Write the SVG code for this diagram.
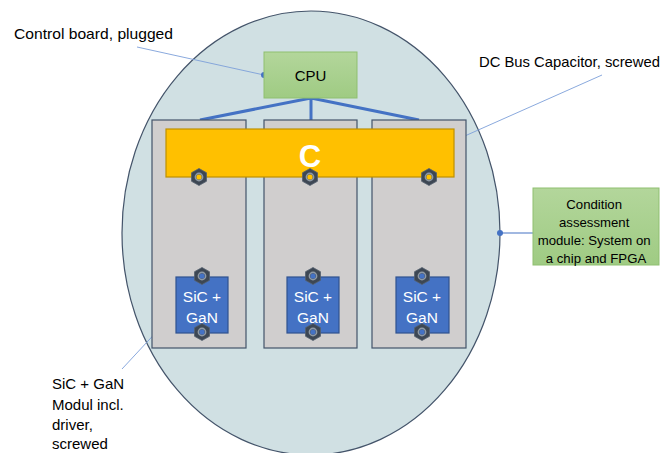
<svg xmlns="http://www.w3.org/2000/svg" width="662" height="453" viewBox="0 0 662 453">
  <style>
    .lbl { font-family: "Liberation Sans", Arial, sans-serif; font-size: 15px; fill: #000; }
    .small { font-size: 13.2px; }
    .board { fill: #d0cece; stroke: #44546a; stroke-width: 1.2; }
    .module { fill: #4472c4; stroke: #2f528f; stroke-width: 1.2; }
    .modtxt { font-family: "Liberation Sans", Arial, sans-serif; font-size: 15.5px; fill: #fff; text-anchor: middle; }
    .green { fill: url(#greenFill); stroke: #8fbf70; stroke-width: 1; }
    .bus { stroke: #4472c4; stroke-width: 3; fill: none; }
    .callout { stroke: #7d9fd9; stroke-width: 0.9; fill: none; }
    .dot { fill: #4472c4; }
  </style>
  <defs>
    <linearGradient id="greenFill" x1="0" y1="0" x2="0" y2="1">
      <stop offset="0" stop-color="#b3d69b"/>
      <stop offset="1" stop-color="#9fcb83"/>
    </linearGradient>
    <!-- hex nut, pointy top -->
    <g id="nut">
      <polygon points="0,-8.5 7.5,-4.3 7.5,4.3 0,8.5 -7.5,4.3 -7.5,-4.3" fill="#3d4754" stroke="#56616f" stroke-width="0.8"/>
      <circle r="3.6" fill="none" stroke="#8e99a5" stroke-width="1.6"/>
    </g>
  </defs>

  <!-- housing -->
  <ellipse id="housing" cx="311" cy="233" rx="189" ry="222" fill="#d0e0e3" stroke="#44546a" stroke-width="1.2"/>

  <!-- connectors -->
  <g id="connectors">
    <path class="bus" d="M311,98 L200,120 M311,98 L311,120 M311,98 L419,120"/>
    <line class="callout" x1="137" y1="47" x2="264" y2="75"/>
    <line class="callout" x1="602" y1="75" x2="440" y2="147"/>
    <line class="callout" x1="122" y1="369" x2="174" y2="313"/>
    <line x1="500" y1="233" x2="533" y2="233" stroke="#4472c4" stroke-width="1.2"/>
    <circle class="dot" cx="264" cy="75" r="3"/>
    <circle class="dot" cx="440" cy="147" r="3"/>
    <circle class="dot" cx="174" cy="313" r="3"/>
    <circle class="dot" cx="500" cy="233" r="3"/>
  </g>

  <!-- power boards -->
  <g id="board1"><rect class="board" x="152" y="120" width="94" height="228"/></g>
  <g id="board2"><rect class="board" x="264" y="120" width="93" height="228"/></g>
  <g id="board3"><rect class="board" x="372" y="120" width="94" height="228"/></g>

  <!-- CPU -->
  <g id="cpu">
    <rect class="green" x="264" y="52" width="93" height="46"/>
    <text class="lbl" x="310.5" y="80.5" text-anchor="middle">CPU</text>
  </g>

  <!-- DC bus capacitor -->
  <g id="capacitor">
    <rect x="166" y="129" width="288" height="48" fill="#ffc000" stroke="#bf9000" stroke-width="1.2"/>
    <text x="310" y="167" text-anchor="middle" font-family="Liberation Sans, Arial, sans-serif" font-size="31" font-weight="bold" fill="#fff">C</text>
    <g transform="translate(199,177)"><use href="#nut"/><circle r="2.6" fill="#ffc000"/></g>
    <g transform="translate(310,177)"><use href="#nut"/><circle r="2.6" fill="#ffc000"/></g>
    <g transform="translate(429,177)"><use href="#nut"/><circle r="2.6" fill="#ffc000"/></g>
  </g>

  <!-- SiC + GaN modules -->
  <g id="module1">
    <rect class="module" x="176" y="277" width="52" height="56"/>
    <text class="modtxt" x="202" y="302">SiC +</text>
    <text class="modtxt" x="202" y="323">GaN</text>
    <g transform="translate(202,276)"><use href="#nut"/><circle r="2.6" fill="#4472c4"/></g>
    <g transform="translate(202,332)"><use href="#nut"/><circle r="2.6" fill="#4472c4"/></g>
  </g>
  <g id="module2">
    <rect class="module" x="287" y="277" width="52" height="56"/>
    <text class="modtxt" x="313" y="302">SiC +</text>
    <text class="modtxt" x="313" y="323">GaN</text>
    <g transform="translate(313,276)"><use href="#nut"/><circle r="2.6" fill="#4472c4"/></g>
    <g transform="translate(313,332)"><use href="#nut"/><circle r="2.6" fill="#4472c4"/></g>
  </g>
  <g id="module3">
    <rect class="module" x="396" y="277" width="53" height="56"/>
    <text class="modtxt" x="422" y="302">SiC +</text>
    <text class="modtxt" x="422" y="323">GaN</text>
    <g transform="translate(422,276)"><use href="#nut"/><circle r="2.6" fill="#4472c4"/></g>
    <g transform="translate(422,332)"><use href="#nut"/><circle r="2.6" fill="#4472c4"/></g>
  </g>

  <!-- condition assessment module -->
  <g id="condition">
    <rect class="green" x="533" y="188" width="126" height="77"/>
    <text class="lbl small" text-anchor="middle">
      <tspan x="596" y="209">Condition</tspan>
      <tspan x="596" y="227">assessment</tspan>
      <tspan x="596" y="245">module: System on</tspan>
      <tspan x="596" y="263">a chip and FPGA</tspan>
    </text>
  </g>

  <!-- callout labels -->
  <g id="labels">
    <text class="lbl" x="14" y="39" textLength="159" lengthAdjust="spacingAndGlyphs">Control board, plugged</text>
    <text class="lbl" x="479" y="67" textLength="181" lengthAdjust="spacingAndGlyphs">DC Bus Capacitor, screwed</text>
    <text class="lbl">
      <tspan x="52" y="389">SiC + GaN</tspan>
      <tspan x="52" y="409.5">Modul incl.</tspan>
      <tspan x="52" y="430">driver,</tspan>
      <tspan x="52" y="449">screwed</tspan>
    </text>
  </g>
</svg>
